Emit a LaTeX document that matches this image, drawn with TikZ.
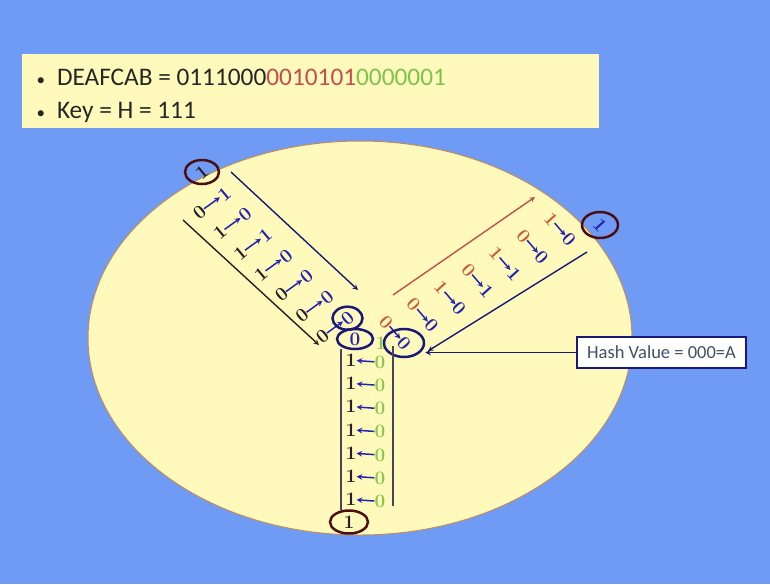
\documentclass[tikz,border=0pt]{standalone}
\usepackage{fontspec}
\newfontfamily\slidefont{Carlito}
\usetikzlibrary{shapes,shapes.misc}
\definecolor{slideblue}{RGB}{112,155,245}
\definecolor{paleyellow}{RGB}{255,250,188}
\definecolor{discedge}{RGB}{190,140,95}
\definecolor{bitblue}{RGB}{35,35,175}
\definecolor{navy}{RGB}{25,25,120}
\definecolor{ringred}{RGB}{75,15,15}
\definecolor{bitred}{RGB}{200,95,60}
\definecolor{bitgreen}{RGB}{135,200,80}
\definecolor{darkbit}{RGB}{40,30,40}
\definecolor{rail}{RGB}{70,70,90}
\definecolor{keyred}{RGB}{192,80,77}
\definecolor{keygreen}{RGB}{125,195,80}
\definecolor{slate}{RGB}{65,80,100}

\begin{document}
\begin{tikzpicture}[x=1pt, y=-1pt, >=stealth,
    bit/.style={inner sep=0pt, font=\bfseries\fontsize{19}{19}\selectfont},
    navyring/.style={ellipse, draw=navy, line width=2.5pt, inner sep=0pt},
    redring/.style={ellipse, draw=ringred, line width=2.5pt, inner sep=0pt},
    pairarrow/.style={->, bitblue, line width=1.5pt}]
   \useasboundingbox (0,0) rectangle (770,584);
   \fill[slideblue] (0,0) rectangle (770,584);
   % header
   \fill[paleyellow] (22,54) rectangle (599,128);
   \node[anchor=base west, font=\slidefont\fontsize{25.3}{30}\selectfont, text=black!85] (keyline1) at (33,85)
     {{\fontsize{17}{17}\selectfont\textbullet}\hspace{12pt}DEAFCAB = 0111000{\color{keyred}0010101}{\color{keygreen}0000001}};
   \node[anchor=base west, font=\slidefont\fontsize{25.3}{30}\selectfont, text=black!85] (keyline2) at (33,118)
     {{\fontsize{17}{17}\selectfont\textbullet}\hspace{12pt}Key = H = 111};
   % disc
   \filldraw[fill=paleyellow, draw=discedge, line width=1pt] (360,338) ellipse [x radius=272, y radius=197];
   % upper-left branch
   \foreach \a/\b [count=\k from 0] in {0/1,1/0,1/1,1/0,0/0,0/0,0/0} {
     \node[bit, rotate=40, text=darkbit] (la\k) at ({199.5+20.5*\k},{212+20.7*\k}) {\a};
     \node[bit, rotate=40, text=bitblue] (lb\k) at ({224.5+20.5*\k},{194+20.7*\k}) {\b};
     \draw[pairarrow] (la\k) -- (lb\k);
   }
   % right branch
   \foreach \a/\b [count=\k from 0] in {0/0,0/0,1/0,0/1,1/1,0/0,1/0} {
     \node[bit, rotate=-48, text=bitred] (ra\k) at ({386+27.5*\k},{322-17.2*\k}) {\a};
     \node[bit, rotate=-48, text=bitblue] (rb\k) at ({404+27.5*\k},{343-17.2*\k}) {\b};
     \draw[pairarrow] (ra\k) -- (rb\k);
   }
   % lower branch
   \node[bit, text=bitblue] (bt) at (355,339) {0};
   \node[bit, text=bitgreen] (btg) at (381,343) {1};
   \foreach \k in {1,...,7} {
     \node[bit, text=darkbit] (ba\k) at (351,{337+23.2*\k}) {1};
     \node[bit, text=bitgreen] (bg\k) at (380,{339+23.2*\k}) {0};
     \draw[pairarrow] (bg\k) -- (ba\k);
   }
   % rings
   \node[navyring, minimum width=30pt, minimum height=23pt] (lring) at (lb6) {};
   \node[navyring, minimum width=36pt, minimum height=20pt] (bring) at (bt) {};
   \node[navyring, minimum width=40pt, minimum height=28pt] (rring) at (rb0) {};
   \node[bit, rotate=40, text=darkbit] (tlone) at (202,172) {1};
   \node[redring, minimum width=34pt, minimum height=24pt] at (tlone) {};
   \node[bit, rotate=-48, text=bitblue] (trone) at (600,225) {1};
   \node[redring, minimum width=36pt, minimum height=26pt] at (trone) {};
   \node[bit, text=darkbit] (btone) at (349,522) {1};
   \node[redring, minimum width=38pt, minimum height=23pt] at (btone) {};
   % rails
   \coordinate (ul1) at (231,172); \coordinate (ul2) at (358,290);
   \coordinate (ll1) at (183,220); \coordinate (ll2) at (319,345);
   \coordinate (ur1) at (393,295); \coordinate (ur2) at (535,197);
   \coordinate (lr1) at (587,252); \coordinate (lr2) at (428,351);
   \coordinate (vl1) at (341,349); \coordinate (vl2) at (341,510);
   \coordinate (vr1) at (393,346); \coordinate (vr2) at (393,506);
   \draw[->, navy, line width=1.4pt] (ul1) -- (ul2);
   \draw[->, darkbit, line width=1.4pt] (ll1) -- (ll2);
   \draw[->, keyred, line width=1.4pt] (ur1) -- (ur2);
   \draw[->, navy, line width=1.4pt] (lr1) -- (lr2);
   \draw[rail, line width=1.4pt] (vl1) -- (vl2);
   \draw[rail, line width=1.4pt] (vr1) -- (vr2);
   % hash value
   \node[draw=navy, fill=white, line width=1.5pt, minimum width=169pt, minimum height=31pt,
     font=\slidefont\fontsize{18.5}{20}\selectfont, text=slate] (hash) at (661.5,352.5) {Hash Value = 000=A};
   \draw[->, navy, line width=1.5pt] (hash.west) -- (hash.west -| rring.east);
\end{tikzpicture}
\end{document}
